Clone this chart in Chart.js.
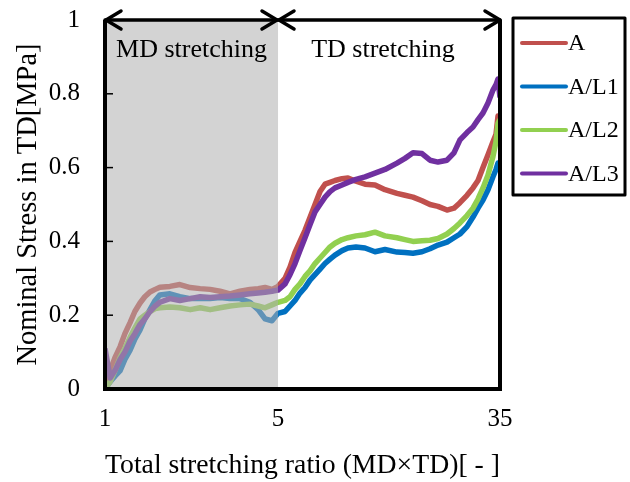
<!DOCTYPE html>
<html><head><meta charset="utf-8">
<script src="https://cdn.jsdelivr.net/npm/chart.js@4.4.0/dist/chart.umd.min.js"></script>
<style>html,body{margin:0;padding:0;background:#fff;}canvas{display:block;}</style>
</head><body>
<canvas id="c" width="630" height="482"></canvas>
<script>
// ---- data ----
const stretchRatio = [
  1.00,1.12,1.23,1.35,1.46,1.58,1.69,1.81,1.92,2.04,2.16,2.27,2.50,2.73,2.97,3.20,3.43,3.66,3.89,4.12,4.35,4.54,4.70,4.86,5.00,
  5.95,6.62,7.30,7.97,8.65,9.32,10.00,10.68,11.35,12.03,12.70,13.65,14.46,15.54,16.76,18.11,19.46,21.08,22.16,23.24,24.46,25.54,26.62,27.84,28.78,29.59,30.54,31.35,32.03,32.70,33.38,34.05,34.46,34.73,35.00
];
const seriesNames = ['A','A/L1','A/L2','A/L3'];
const stressA = [
  0.00,0.05,0.085,0.115,0.15,0.18,0.21,0.233,0.25,0.263,0.27,0.276,0.278,0.283,0.275,0.272,0.27,0.265,0.258,0.265,0.27,0.272,0.275,0.27,0.278,
  0.30,0.33,0.37,0.40,0.43,0.465,0.50,0.535,0.555,0.56,0.565,0.57,0.572,0.563,0.555,0.553,0.54,0.53,0.525,0.52,0.51,0.50,0.495,0.485,0.49,0.505,0.525,0.545,0.565,0.60,0.635,0.67,0.69,0.74,0.72
];
const stressAL1 = [
  0.00,0.02,0.035,0.05,0.08,0.105,0.135,0.16,0.19,0.215,0.24,0.255,0.258,0.25,0.245,0.245,0.245,0.248,0.245,0.245,0.235,0.215,0.19,0.185,0.205,
  0.21,0.225,0.24,0.26,0.275,0.295,0.31,0.325,0.34,0.352,0.363,0.375,0.382,0.385,0.382,0.372,0.378,0.371,0.37,0.368,0.372,0.38,0.39,0.398,0.41,0.42,0.44,0.466,0.49,0.512,0.54,0.575,0.595,0.612,0.60
];
const stressAL2 = [
  0.00,0.02,0.05,0.085,0.11,0.14,0.165,0.19,0.20,0.21,0.218,0.22,0.222,0.22,0.215,0.22,0.215,0.22,0.225,0.228,0.23,0.225,0.22,0.228,0.235,
  0.24,0.25,0.27,0.285,0.305,0.32,0.34,0.355,0.37,0.385,0.395,0.405,0.41,0.415,0.418,0.425,0.415,0.41,0.405,0.40,0.402,0.403,0.408,0.42,0.435,0.45,0.47,0.49,0.515,0.545,0.58,0.63,0.67,0.72,0.73
];
const stressAL3 = [
  0.11,0.03,0.05,0.08,0.10,0.13,0.15,0.175,0.19,0.21,0.225,0.235,0.245,0.24,0.245,0.25,0.248,0.25,0.252,0.255,0.258,0.26,0.262,0.265,0.268,
  0.285,0.31,0.34,0.375,0.41,0.445,0.48,0.50,0.52,0.535,0.545,0.553,0.56,0.568,0.575,0.585,0.595,0.612,0.625,0.64,0.638,0.62,0.615,0.62,0.64,0.675,0.695,0.71,0.73,0.748,0.775,0.81,0.825,0.84,0.79
];
const xTickValues = [1, 5, 35];
const yTickLabels = ['0','0.2','0.4','0.6','0.8','1'];
const phaseLabels = ['MD stretching','TD stretching'];

// ---- styles ----
const colors = ['#C0504D','#0070C0','#92D050','#7030A0'];
const drawOrder = [2, 3, 1, 0];
const FONT = '"Liberation Serif", "Times New Roman", serif';
const MD_FRACTION = 0.438;

// piecewise axis: [1,5] on first part, [5,35] on the rest
class PiecewiseScale extends Chart.LinearScale {
  buildTicks() { return xTickValues.map(v => ({ value: v })); }
  getPixelForValue(v) {
    const a = xTickValues[0], b = xTickValues[1], c = xTickValues[2];
    const f = v <= b ? (v - a) / (b - a) * MD_FRACTION
                     : MD_FRACTION + (v - b) / (c - b) * (1 - MD_FRACTION);
    return this.getPixelForDecimal(f);
  }
  getValueForPixel(p) {
    const a = xTickValues[0], b = xTickValues[1], c = xTickValues[2];
    const f = this.getDecimalForPixel(p);
    return f <= MD_FRACTION ? a + f / MD_FRACTION * (b - a)
                            : b + (f - MD_FRACTION) / (1 - MD_FRACTION) * (c - b);
  }
}
PiecewiseScale.id = 'piecewise';
PiecewiseScale.defaults = {};
Chart.register(PiecewiseScale);

const allSeries = [stressA, stressAL1, stressAL2, stressAL3];
const datasets = allSeries.map((s, i) => ({
  label: seriesNames[i],
  data: stretchRatio.map((x, k) => ({ x: x, y: s[k] })),
  borderColor: colors[i],
  backgroundColor: colors[i],
  borderWidth: 5.5,
  pointRadius: 0,
  tension: 0,
  borderJoinStyle: 'round',
  order: drawOrder[i]
}));

const decor = {
  id: 'decor',
  afterDatasetsDraw(chart) {
    const { ctx, chartArea: a, scales: { x, y } } = chart;
    const xb = x.getPixelForValue(xTickValues[1]);
    ctx.save();
    // gray MD zone overlay
    ctx.fillStyle = 'rgba(175,175,175,0.55)';
    ctx.fillRect(a.left, a.top, xb - a.left, a.bottom - a.top);
    // frame
    ctx.strokeStyle = '#000';
    ctx.lineWidth = 4;
    ctx.beginPath();
    ctx.moveTo(a.left, a.top); ctx.lineTo(a.left, a.bottom);
    ctx.lineTo(a.right, a.bottom); ctx.lineTo(a.right, a.top);
    ctx.stroke();
    // inward y ticks
    ctx.lineWidth = 1.5;
    yTickLabels.forEach((t) => {
      const v = parseFloat(t);
      if (v <= 0 || v >= 1) return;
      const py = y.getPixelForValue(v);
      ctx.beginPath(); ctx.moveTo(a.left, py); ctx.lineTo(a.left + 8, py); ctx.stroke();
    });
    // top arrows
    ctx.lineWidth = 3.5;
    ctx.lineCap = 'round';
    ctx.lineJoin = 'round';
    const ty = a.top;
    ctx.beginPath(); ctx.moveTo(a.left, ty); ctx.lineTo(a.right, ty); ctx.stroke();
    const arrow = (tip, dir) => {
      ctx.beginPath();
      ctx.moveTo(tip - dir * 15, ty - 9);
      ctx.lineTo(tip, ty);
      ctx.lineTo(tip - dir * 15, ty + 9);
      ctx.stroke();
    };
    arrow(a.left + 1, -1);
    arrow(xb - 1, 1);
    arrow(xb + 1, -1);
    arrow(a.right, 1);
    // phase labels
    ctx.fillStyle = '#000';
    ctx.font = '26px ' + FONT;
    ctx.textAlign = 'center';
    ctx.textBaseline = 'alphabetic';
    ctx.fillText(phaseLabels[0], (a.left + xb) / 2, a.top + 37);
    ctx.fillText(phaseLabels[1], (xb + a.right) / 2 - 6, a.top + 37);
    // legend
    const lx = a.right + 13, lyTop = a.top - 2, lw = 112, lh = 177;
    ctx.lineWidth = 3;
    ctx.strokeRect(lx, lyTop, lw, lh);
    ctx.font = '24px ' + FONT;
    ctx.textAlign = 'left';
    ctx.textBaseline = 'middle';
    seriesNames.forEach((n, i) => {
      const cy = lyTop + 25 + i * 43.5;
      ctx.strokeStyle = colors[i];
      ctx.lineWidth = 4;
      ctx.lineCap = 'round';
      ctx.beginPath(); ctx.moveTo(lx + 9, cy); ctx.lineTo(lx + 53, cy); ctx.stroke();
      ctx.fillStyle = '#000';
      ctx.fillText(n, lx + 55, cy + 1);
    });
    ctx.restore();
  }
};

new Chart(document.getElementById('c'), {
  type: 'line',
  data: { datasets },
  plugins: [decor],
  options: {
    responsive: false,
    animation: false,
    devicePixelRatio: 1,
    layout: { padding: { top: 20, right: 130, left: 0, bottom: 0 } },
    plugins: { legend: { display: false }, tooltip: { enabled: false } },
    scales: {
      x: {
        type: 'piecewise',
        min: xTickValues[0], max: xTickValues[2],
        grid: { display: false, drawTicks: false },
        border: { display: false },
        ticks: { color: '#000', font: { family: FONT, size: 25 }, padding: 15, maxRotation: 0, autoSkip: false,
                 callback: v => String(v) },
        title: { display: true, text: 'Total stretching ratio (MD×TD)[ - ]', color: '#000',
                 font: { family: FONT, size: 28 }, padding: { top: 0, bottom: 0 } },
        afterFit: s => { s.height = 93; s.paddingLeft = 0; s.paddingRight = 0; }
      },
      y: {
        min: 0, max: 1,
        grid: { display: false, drawTicks: false },
        border: { display: false },
        ticks: { color: '#000', font: { family: FONT, size: 25 }, padding: 25, stepSize: 0.2,
                 callback: (v) => yTickLabels[Math.round(v * 5)] },
        title: { display: true, text: 'Nominal Stress in TD[MPa]', color: '#000',
                 font: { family: FONT, size: 28.5 }, padding: { top: 11, bottom: 0 } },
        afterFit: s => { s.width = 105; s.paddingTop = 0; s.paddingBottom = 0; }
      }
    }
  }
});
</script>
</body></html>
